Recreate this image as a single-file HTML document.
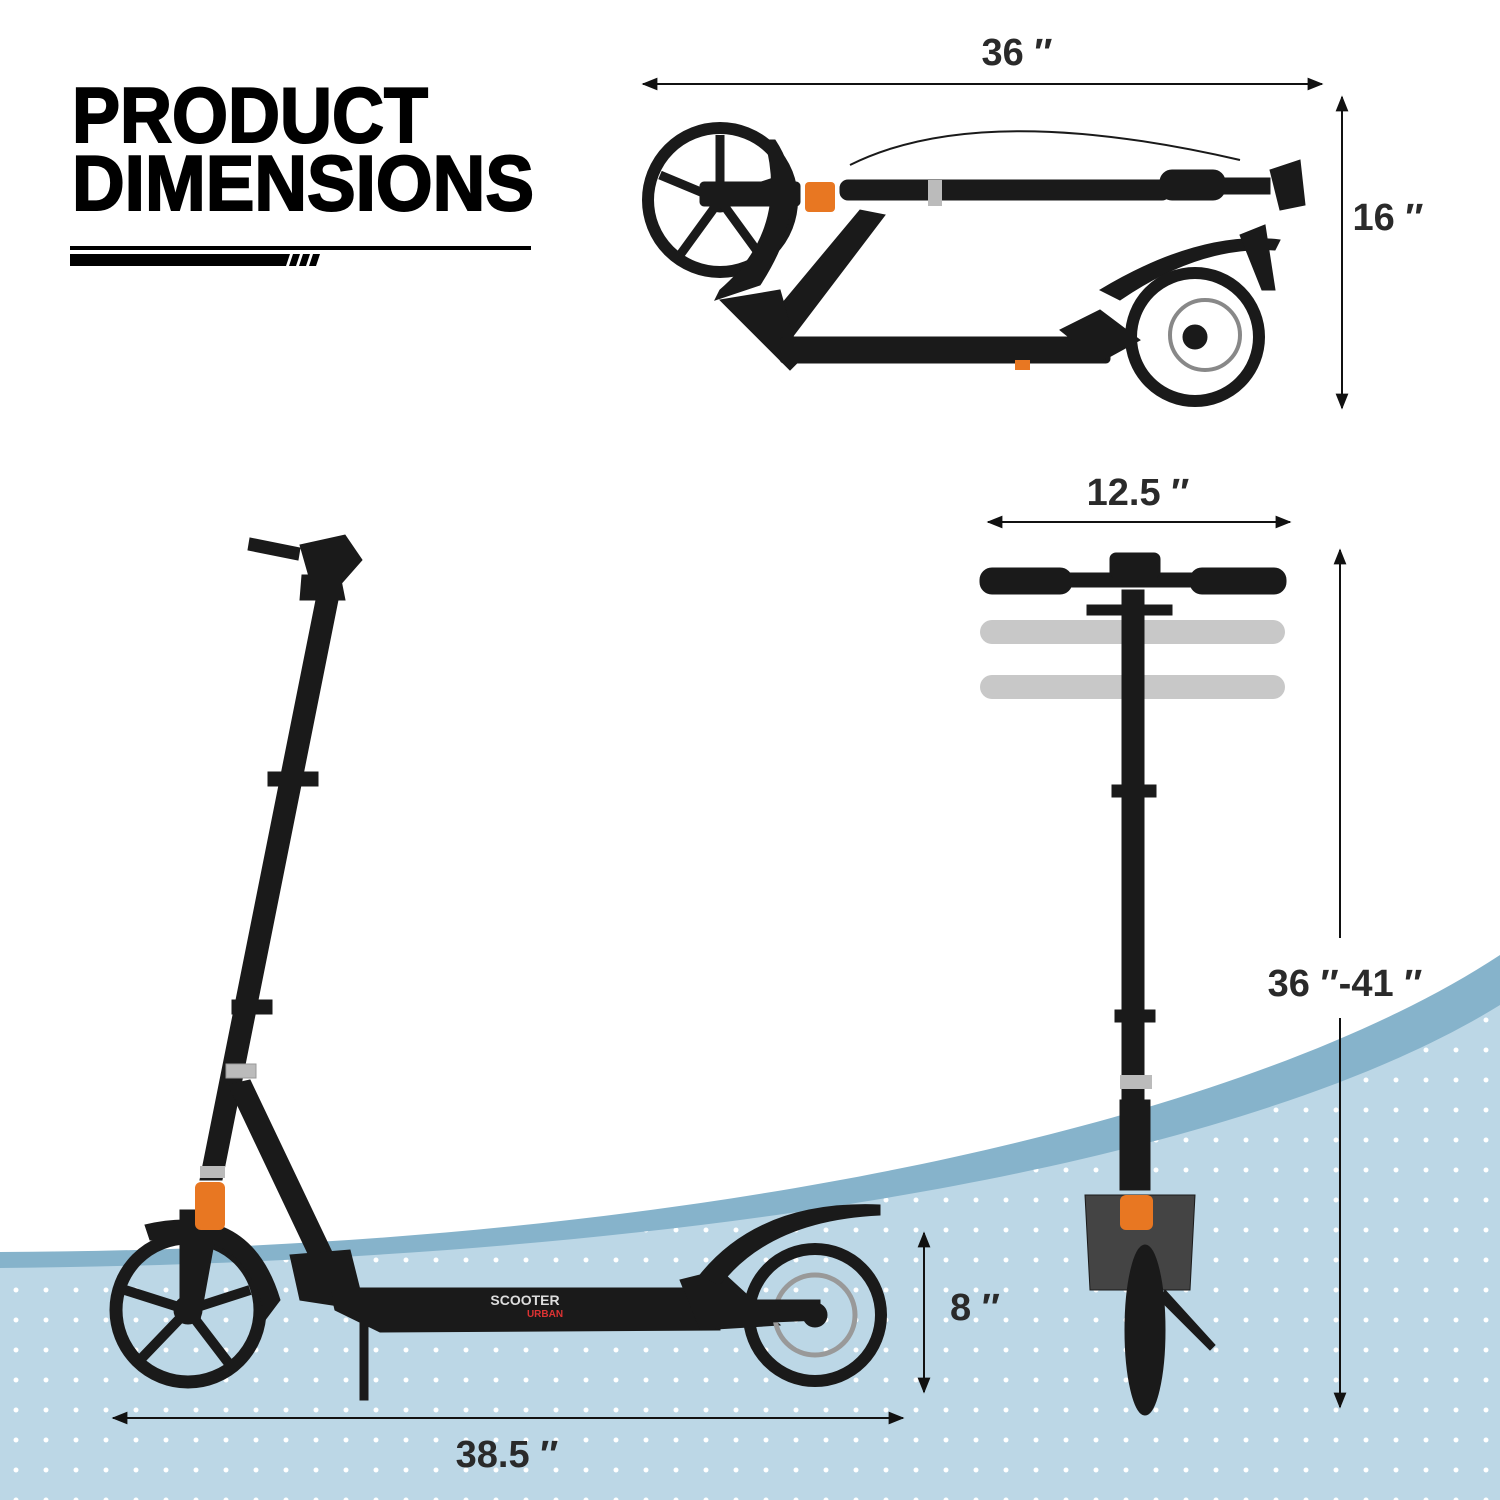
<!DOCTYPE html>
<html><head><meta charset="utf-8"><style>html,body{margin:0;padding:0;background:#fff}svg{display:block}</style></head>
<body>
<svg width="1500" height="1500" viewBox="0 0 1500 1500" xmlns="http://www.w3.org/2000/svg">
<defs>
<pattern id="dots" x="1" y="15" width="30" height="30" patternUnits="userSpaceOnUse">
<rect width="30" height="30" fill="#bcd7e6"/>
<circle cx="15" cy="15" r="2.5" fill="#fff"/>
</pattern>
<marker id="ah" viewBox="0 0 10 10" refX="9" refY="5" markerWidth="8" markerHeight="8" orient="auto-start-reverse"><path d="M0,1 L10,5 L0,9 Z" fill="#111"/></marker>
</defs>
<rect width="1500" height="1500" fill="#fff"/>
<!-- background waves -->
<path d="M0,1252 C700,1250 1250,1120 1500,955 L1500,1500 L0,1500 Z" fill="#86b3cb"/>
<path d="M0,1268 C700,1262 1250,1160 1500,1005 L1500,1500 L0,1500 Z" fill="url(#dots)"/>

<!-- title -->
<g font-family="Liberation Sans, sans-serif" font-weight="900" fill="#000">
<text x="72" y="142" font-size="78" textLength="356" lengthAdjust="spacingAndGlyphs" stroke="#000" stroke-width="2">PRODUCT</text>
<text x="72" y="210" font-size="78" textLength="462" lengthAdjust="spacingAndGlyphs" stroke="#000" stroke-width="2">DIMENSIONS</text>
</g>
<rect x="70" y="246" width="461" height="4" fill="#000"/>
<path d="M70,254 L290,254 L286,266 L70,266 Z" fill="#000"/>
<path d="M293,254 L300,254 L296,266 L289,266 Z M303,254 L310,254 L306,266 L299,266 Z M313,254 L320,254 L316,266 L309,266 Z" fill="#000"/>

<!-- arrows -->
<g stroke="#111" stroke-width="2" fill="none" marker-start="url(#ah)" marker-end="url(#ah)">
<line x1="643" y1="84" x2="1322" y2="84"/>
<line x1="1342" y1="97" x2="1342" y2="408"/>
<line x1="988" y1="522" x2="1290" y2="522"/>
<line x1="924" y1="1233" x2="924" y2="1392"/>
<line x1="113" y1="1418" x2="903" y2="1418"/>
</g>
<g stroke="#111" stroke-width="2" fill="none">
<line x1="1340" y1="550" x2="1340" y2="938" marker-start="url(#ah)"/>
<line x1="1340" y1="1018" x2="1340" y2="1407" marker-end="url(#ah)"/>
</g>
<g font-family="Liberation Sans, sans-serif" font-weight="bold" font-size="38" fill="#2a2a2a" text-anchor="middle">
<text x="1017" y="65">36 ″</text>
<text x="1388" y="230">16 ″</text>
<text x="1138" y="505">12.5 ″</text>
<text x="1345" y="996">36 ″-41 ″</text>
<text x="975" y="1320">8 ″</text>
<text x="507" y="1467">38.5 ″</text>
</g>

<!-- folded scooter -->
<g fill="#1a1a1a" stroke="#1a1a1a">
<circle cx="720" cy="200" r="72" fill="none" stroke-width="12"/>
<circle cx="720" cy="200" r="12"/>
<g stroke-width="9"><line x1="720" y1="200" x2="720" y2="135"/><line x1="720" y1="200" x2="780" y2="180"/><line x1="720" y1="200" x2="680" y2="255"/><line x1="720" y1="200" x2="760" y2="255"/><line x1="720" y1="200" x2="660" y2="175"/></g>
<path d="M775,140 Q815,200 760,285 L715,300 L720,290 Q790,230 765,140 Z"/>
<rect x="700" y="182" width="100" height="24" rx="4"/>
<rect x="840" y="180" width="330" height="20" rx="8"/>
<rect x="1160" y="170" width="65" height="30" rx="12"/>
<rect x="1220" y="178" width="50" height="16"/>
<path d="M1270,170 L1300,160 L1305,205 L1280,210 Z"/>
<path d="M760,330 L860,210 L885,215 L790,340 Z"/>
<path d="M720,300 L780,290 L800,360 L790,370 L730,310 Z"/>
<rect x="780" y="337" width="330" height="26" rx="4"/>
<path d="M1060,330 L1100,310 L1140,340 L1100,362 Z"/>
<path d="M1100,290 Q1200,230 1280,240 L1275,250 Q1200,245 1120,300 Z"/>
<path d="M1240,235 L1265,225 L1275,290 L1262,290 Z"/>
<circle cx="1195" cy="337" r="64" fill="none" stroke-width="12"/>
<circle cx="1195" cy="337" r="12"/>
<circle cx="1205" cy="335" r="35" fill="none" stroke="#888" stroke-width="4"/>
<path d="M850,165 Q980,100 1240,160" fill="none" stroke-width="2"/>
</g>
<g fill="#e87722"><rect x="805" y="182" width="30" height="30" rx="4"/><rect x="1015" y="360" width="15" height="10"/></g>
<rect x="928" y="180" width="14" height="26" fill="#bbb"/>

<!-- side scooter -->
<g fill="#1a1a1a" stroke="#1a1a1a">
<circle cx="188" cy="1310" r="72" fill="none" stroke-width="13"/>
<circle cx="188" cy="1310" r="14"/>
<g stroke-width="10"><line x1="188" y1="1310" x2="188" y2="1245"/><line x1="188" y1="1310" x2="250" y2="1290"/><line x1="188" y1="1310" x2="140" y2="1360"/><line x1="188" y1="1310" x2="230" y2="1365"/><line x1="188" y1="1310" x2="125" y2="1290"/></g>
<path d="M145,1225 Q250,1200 280,1300 L265,1320 Q250,1225 150,1240 Z"/>
<path d="M180,1210 L220,1210 L200,1320 L180,1320 Z"/>
<path d="M200,1180 L222,1180 L340,590 L318,590 Z"/>
<path d="M302,575 L340,575 L345,600 L300,600 Z"/>
<path d="M250,538 L300,548 L298,560 L248,550 Z"/>
<path d="M300,545 L345,535 L362,560 L340,585 L310,580 Z"/>
<rect x="268" y="772" width="50" height="14"/>
<rect x="232" y="1000" width="40" height="14"/>
<rect x="226" y="1064" width="30" height="14" fill="#bbb" stroke="#999"/>
<path d="M228,1085 L250,1080 L350,1290 L330,1300 Z"/>
<path d="M290,1255 L350,1250 L365,1310 L300,1300 Z"/>
<path d="M330,1288 L720,1288 L720,1330 L380,1332 L335,1310 Z"/>
<rect x="360" y="1320" width="8" height="80"/>
<path d="M680,1280 L720,1270 L780,1325 L700,1330 Z"/>
<path d="M700,1275 Q760,1200 880,1205 L880,1215 Q770,1220 720,1285 Z"/>
<circle cx="815" cy="1315" r="66" fill="none" stroke-width="12"/>
<circle cx="815" cy="1315" r="12"/>
<circle cx="815" cy="1315" r="40" fill="none" stroke="#999" stroke-width="5"/>
<path d="M700,1300 L820,1300 L820,1320 L700,1325 Z"/>
</g>
<rect x="195" y="1182" width="30" height="48" rx="6" fill="#e87722"/>
<rect x="200" y="1166" width="25" height="12" fill="#bbb"/>
<text x="525" y="1305" font-family="Liberation Sans, sans-serif" font-size="14" font-weight="bold" fill="#ddd" text-anchor="middle">SCOOTER</text>
<text x="545" y="1317" font-family="Liberation Sans, sans-serif" font-size="10" font-weight="bold" fill="#d33" text-anchor="middle">URBAN</text>

<!-- front view -->
<g fill="#c8c8c8">
<rect x="980" y="620" width="305" height="24" rx="12"/>
<rect x="980" y="675" width="305" height="24" rx="12"/>
</g>
<g fill="#1a1a1a" stroke="#1a1a1a">
<rect x="980" y="568" width="92" height="26" rx="12"/>
<rect x="1190" y="568" width="96" height="26" rx="12"/>
<rect x="1070" y="573" width="122" height="14"/>
<rect x="1110" y="553" width="50" height="25" rx="6"/>
<rect x="1122" y="590" width="22" height="520"/>
<rect x="1087" y="605" width="85" height="10"/>
<rect x="1112" y="785" width="44" height="12"/>
<rect x="1115" y="1010" width="40" height="12"/>
<rect x="1120" y="1100" width="30" height="90"/>
<path d="M1085,1195 L1195,1195 L1190,1290 L1090,1290 Z" fill="#444"/>
<ellipse cx="1145" cy="1330" rx="20" ry="85"/>
<path d="M1165,1290 L1215,1345 L1210,1350 L1160,1300 Z"/>
</g>
<rect x="1120" y="1195" width="33" height="35" rx="6" fill="#e87722"/>
<rect x="1120" y="1075" width="32" height="14" fill="#bbb"/>
</svg>
</body></html>
